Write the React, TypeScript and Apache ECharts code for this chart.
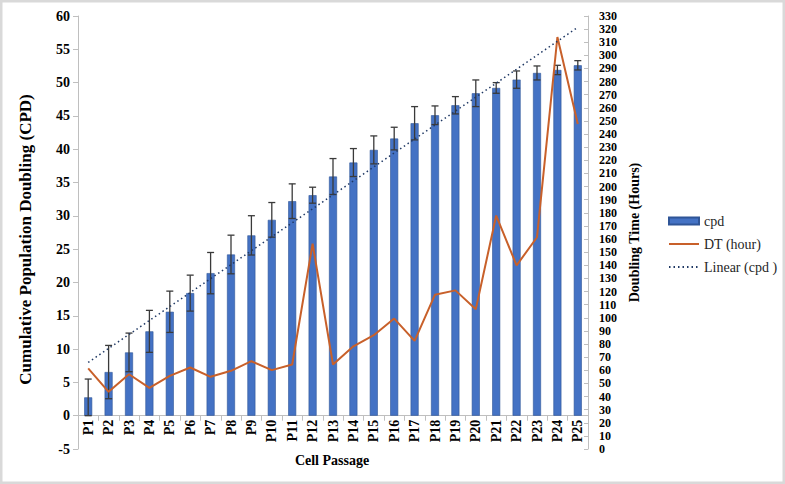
import React, { useEffect, useRef } from "react";
import * as echarts from "echarts";

const categories = ["P1","P2","P3","P4","P5","P6","P7","P8","P9","P10","P11","P12","P13","P14","P15","P16","P17","P18","P19","P20","P21","P22","P23","P24","P25"];
const cpd = [2.75,6.55,9.5,12.66,15.6,18.4,21.4,24.2,27.07,29.4,32.2,33.1,35.9,38.0,39.9,41.6,43.9,45.1,46.6,48.4,49.2,50.45,51.45,51.9,52.6];
const cpdErr = [2.75,4.0,2.9,3.15,3.1,2.7,3.1,2.9,2.95,2.6,2.6,1.2,2.7,2.1,2.1,1.7,2.5,1.4,1.3,2.0,0.8,1.3,1.05,0.7,0.7];
const dtHours = [61.4,43.6,57.0,46.6,55.7,62.1,55.0,59.6,66.9,60.1,64.4,156.4,64.4,78.3,86.7,99.4,82.4,117.6,120.9,106.5,177.9,139.9,161.4,314,247.7];
// Linear trend line of cpd, endpoints: [category index, value]
const trendPoints: [number, number][] = [[0, 8.0], [24, 58.3]];
const xAxisTitle = "Cell Passage";

const FONT = "'Liberation Serif', 'Times New Roman', serif";
const GRID_TOP = 16;
const GRID_BOTTOM_PX = 449;
const Y_MIN = -5;
const Y_MAX = 60;

export default function App() {
  const ref = useRef<HTMLDivElement>(null);
  useEffect(() => {
    document.body.style.margin = "0";
    const chart = echarts.init(ref.current!, undefined, { renderer: "svg" });
    const axisLabel = { fontFamily: FONT, fontSize: 14, fontWeight: "bold", color: "#000" };
    // move the category axis up to the left axis' zero line
    const zeroOffset = -((0 - Y_MIN) / (Y_MAX - Y_MIN)) * (GRID_BOTTOM_PX - GRID_TOP);
    chart.setOption({
      animation: false,
      backgroundColor: "#fff",
      textStyle: { fontFamily: FONT },
      graphic: [
        { type: "rect", shape: { x: 1, y: 1, width: 783, height: 482 }, style: { fill: "none", stroke: "#D9D9D9", lineWidth: 3 }, silent: true },
        {
          type: "text",
          x: 332,
          y: 460,
          style: { text: xAxisTitle, fontFamily: FONT, fontSize: 14, fontWeight: "bold", fill: "#000", align: "center", verticalAlign: "middle" },
          silent: true,
        },
      ],
      grid: { left: 78, right: 197, top: GRID_TOP, bottom: 484 - GRID_BOTTOM_PX, containLabel: false, outerBoundsMode: "none" },
      legend: {
        orient: "vertical",
        left: 663,
        top: 209,
        itemWidth: 30,
        itemHeight: 7,
        itemGap: 9,
        textStyle: { fontFamily: FONT, fontSize: 14, color: "#262626" },
        data: [
          { name: "cpd", icon: "rect" },
          { name: "DT (hour)", itemStyle: { opacity: 0 } },
          { name: "Linear (cpd )", itemStyle: { opacity: 0 } },
        ],
      },
      xAxis: {
        type: "category",
        data: categories,
        position: "bottom",
        offset: zeroOffset,
        axisLine: { onZero: false, lineStyle: { color: "#BFBFBF", width: 1 } },
        axisTick: { show: true, length: 5, lineStyle: { color: "#BFBFBF" } },
        axisLabel: { ...axisLabel, rotate: 90, margin: 4, interval: 0 },
        splitLine: { show: false },
      },
      yAxis: [
        {
          type: "value",
          min: Y_MIN,
          max: Y_MAX,
          interval: 5,
          name: "Cumulative Population Doubling (CPD)",
          nameLocation: "middle",
          nameRotate: 90,
          nameGap: 44,
          nameTextStyle: { fontFamily: FONT, fontSize: 17, fontWeight: "bold", color: "#000", padding: [0, 14, 0, 0] },
          axisLine: { show: true, lineStyle: { color: "#BFBFBF" } },
          axisTick: { show: true, length: 5, lineStyle: { color: "#BFBFBF" } },
          axisLabel: { ...axisLabel, margin: 8 },
          splitLine: { show: false },
        },
        {
          type: "value",
          min: 0,
          max: 330,
          interval: 10,
          position: "right",
          name: "Doubling Time (Hours)",
          nameLocation: "middle",
          nameRotate: 90,
          nameGap: 38,
          nameTextStyle: { fontFamily: FONT, fontSize: 14, fontWeight: "bold", color: "#000" },
          axisLine: { show: true, lineStyle: { color: "#BFBFBF" } },
          axisTick: { show: true, inside: true, length: 4, lineStyle: { color: "#BFBFBF" } },
          axisLabel: { ...axisLabel, fontSize: 12, lineHeight: 12, margin: 11, showMinLabel: true, showMaxLabel: true, hideOverlap: false },
          splitLine: { show: false },
        },
      ],
      series: [
        {
          name: "cpd",
          type: "bar",
          yAxisIndex: 0,
          data: cpd,
          barWidth: 8,
          itemStyle: { color: "#4472C4", borderColor: "#2F5597", borderWidth: 0.6 },
          z: 2,
        },
        {
          name: "cpdErr",
          type: "custom",
          yAxisIndex: 0,
          data: cpd.map((v, i) => [i, v, cpdErr[i]]),
          encode: { x: 0, y: 1 },
          z: 3,
          silent: true,
          renderItem: (params: any, api: any) => {
            const i = api.value(0);
            const v = api.value(1);
            const e = api.value(2);
            const top = api.coord([i, v + e]);
            const bot = api.coord([i, v - e]);
            const hw = 3.5;
            const style = { stroke: "#3A3A3A", lineWidth: 1.3 };
            return {
              type: "group",
              children: [
                { type: "line", shape: { x1: top[0], y1: top[1], x2: bot[0], y2: bot[1] }, style },
                { type: "line", shape: { x1: top[0] - hw, y1: top[1], x2: top[0] + hw, y2: top[1] }, style },
                { type: "line", shape: { x1: bot[0] - hw, y1: bot[1], x2: bot[0] + hw, y2: bot[1] }, style },
              ],
            };
          },
        },
        {
          name: "DT (hour)",
          type: "line",
          yAxisIndex: 1,
          data: dtHours,
          symbol: "none",
          lineStyle: { color: "#C8602A", width: 2 },
          itemStyle: { color: "#C8602A" },
          z: 4,
        },
        {
          name: "Linear (cpd )",
          type: "line",
          yAxisIndex: 0,
          data: trendPoints,
          symbol: "none",
          lineStyle: { color: "#1F3864", width: 1.5, type: [1.5, 3] },
          itemStyle: { color: "#1F3864" },
          z: 5,
        },
      ],
    });
    return () => chart.dispose();
  }, []);
  return <div ref={ref} style={{ width: 785, height: 484 }} />;
}
